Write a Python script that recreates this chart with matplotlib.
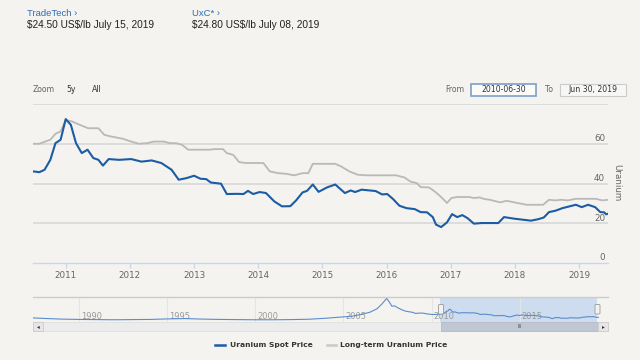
import matplotlib
matplotlib.use("Agg")
import matplotlib.pyplot as plt
from matplotlib.patches import Rectangle, FancyBboxPatch
import matplotlib.transforms as mtrans

# ---------------- data ----------------
spot_years = [2010.49, 2010.59, 2010.67, 2010.76, 2010.84, 2010.92, 2011.00, 2011.08, 2011.16, 2011.25,
              2011.34, 2011.43, 2011.51, 2011.58, 2011.67, 2011.83, 2012.02, 2012.18, 2012.34, 2012.49,
              2012.65, 2012.76, 2012.88, 2013.00, 2013.10, 2013.19, 2013.26, 2013.42, 2013.51, 2013.67,
              2013.77, 2013.84, 2013.92, 2014.02, 2014.12, 2014.25, 2014.37, 2014.50, 2014.59, 2014.69,
              2014.76, 2014.85, 2014.94, 2015.07, 2015.20, 2015.35, 2015.44, 2015.51, 2015.61, 2015.83,
              2015.93, 2016.01, 2016.10, 2016.20, 2016.31, 2016.44, 2016.53, 2016.63, 2016.72, 2016.77,
              2016.85, 2016.94, 2017.02, 2017.10, 2017.18, 2017.26, 2017.36, 2017.48, 2017.74, 2017.83,
              2017.99, 2018.25, 2018.37, 2018.45, 2018.53, 2018.63, 2018.74, 2018.85, 2018.95, 2019.04,
              2019.14, 2019.25, 2019.33, 2019.39, 2019.42, 2019.45]
spot_values = [46.1, 45.7, 46.9, 51.9, 60.3, 62.0, 72.4, 69.5, 60.3, 55.3,
               57.0, 52.8, 51.9, 49.0, 52.3, 51.9, 52.3, 51.0, 51.6, 50.3,
               46.9, 41.9, 42.7, 43.9, 42.4, 42.2, 40.5, 39.9, 34.7, 34.8,
               34.7, 36.3, 34.7, 35.7, 35.2, 31.0, 28.5, 28.6, 31.5, 35.5,
               36.3, 39.5, 35.8, 38.0, 39.5, 35.2, 36.5, 35.7, 36.9, 36.2,
               34.5, 34.7, 32.2, 28.8, 27.6, 27.1, 25.6, 25.5, 23.1, 19.3,
               18.1, 20.4, 24.6, 23.1, 24.1, 22.6, 19.8, 20.1, 20.1, 23.1,
               22.3, 21.3, 22.1, 22.9, 25.6, 26.3, 27.6, 28.5, 29.3, 28.1,
               29.3, 28.1, 25.6, 25.5, 24.5, 24.8]

lt_years = [2010.49, 2010.59, 2010.68, 2010.76, 2010.84, 2010.92, 2011.00, 2011.10, 2011.22, 2011.35,
            2011.51, 2011.60, 2011.70, 2011.89, 2012.02, 2012.14, 2012.27, 2012.37, 2012.53, 2012.62,
            2012.72, 2012.81, 2012.91, 2013.23, 2013.32, 2013.45, 2013.51, 2013.61, 2013.70, 2013.80,
            2014.08, 2014.18, 2014.31, 2014.43, 2014.56, 2014.69, 2014.78, 2014.85, 2015.20, 2015.29,
            2015.42, 2015.55, 2015.70, 2016.15, 2016.28, 2016.37, 2016.47, 2016.53, 2016.66, 2016.75,
            2016.85, 2016.94, 2017.01, 2017.10, 2017.29, 2017.36, 2017.45, 2017.52, 2017.61, 2017.77,
            2017.87, 2017.96, 2018.18, 2018.44, 2018.53, 2018.63, 2018.72, 2018.82, 2018.95, 2019.26,
            2019.36, 2019.45]
lt_values = [60.0, 60.0, 61.1, 62.0, 65.0, 66.2, 72.0, 71.2, 69.5, 67.8,
             67.8, 64.5, 63.7, 62.5, 61.1, 60.0, 60.3, 61.1, 61.1, 60.3,
             60.3, 59.5, 57.0, 57.0, 57.3, 57.3, 55.3, 54.4, 50.8, 50.3,
             50.3, 46.1, 45.2, 44.9, 44.1, 45.2, 45.2, 49.9, 49.9, 48.6,
             46.1, 44.4, 44.1, 44.1, 43.0, 41.0, 40.2, 38.2, 38.0, 36.0,
             33.2, 30.2, 32.7, 33.2, 33.2, 32.7, 33.0, 32.2, 31.8, 30.5,
             31.3, 30.7, 29.3, 29.3, 31.8, 31.5, 31.8, 31.5, 32.3, 32.3,
             31.5, 31.8]

# navigator history (spot price before the selected range)
hist_years = [1987.4, 1988.0, 1989.0, 1990.0, 1991.0, 1992.0, 1993.0, 1994.0, 1995.0, 1996.0,
              1997.0, 1998.0, 1999.0, 2000.0, 2001.0, 2002.0, 2003.0, 2004.0, 2005.0, 2005.5,
              2006.0, 2006.5, 2006.9, 2007.2, 2007.45, 2007.6, 2007.75, 2007.9, 2008.1, 2008.3,
              2008.5, 2008.7, 2008.9, 2009.1, 2009.3, 2009.5, 2009.7, 2010.0, 2010.3]
hist_values = [22, 19, 15, 13, 12, 11, 12, 13, 16, 18,
               15, 13, 12, 11, 11, 12, 14, 20, 28, 32,
               42, 55, 75, 105, 136, 115, 90, 92, 80, 70,
               62, 58, 55, 48, 50, 50, 46, 42, 42]

x_ticks = [2011, 2012, 2013, 2014, 2015, 2016, 2017, 2018, 2019]
y_ticks = [0, 20, 40, 60]
nav_ticks = [1990, 1995, 2000, 2005, 2010, 2015]
selection = (2010.5, 2019.38)

BG = "#f4f3ef"
BLUE = "#1c5ca4"
GRAY = "#b9b9b9"
TXT = "#666666"
FONT = "DejaVu Sans"

W, H = 640, 360
fig = plt.figure(figsize=(6.4, 3.6), dpi=100, facecolor=BG)


def rect(x0, y0, x1, y1):
    return [x0 / W, 1 - y1 / H, (x1 - x0) / W, (y1 - y0) / H]


# ---------------- main plot ----------------
ax = fig.add_axes(rect(33, 104, 608, 263))
ax.set_facecolor("none")
ax.set_xlim(2010.49, 2019.45)
ax.set_ylim(0, 80)
for v in [20, 40, 60, 80]:
    ax.axhline(v, color="#dcdcdc", lw=1.4, zorder=0)
ax.plot(lt_years, lt_values, color=GRAY, lw=1.3, zorder=2)
ax.plot(spot_years, spot_values, color=BLUE, lw=1.5, zorder=3)
for s in ["top", "left", "right"]:
    ax.spines[s].set_visible(False)
ax.spines["bottom"].set_color("#ccd6eb")
ax.spines["bottom"].set_linewidth(1.0)
ax.set_yticks([])
ax.set_xticks(x_ticks)
ax.set_xticklabels([str(t) for t in x_ticks], fontsize=6.3, color=TXT, family=FONT)
ax.tick_params(axis="x", length=3.5, color="#ccd6eb", width=1.0, pad=2.5)
trans = mtrans.blended_transform_factory(ax.transAxes, ax.transData)
for v in y_ticks:
    ax.text(0.995, v + 0.3, str(v), transform=trans, ha="right", va="bottom",
            fontsize=6.3, color=TXT, family=FONT)
fig.text(617 / W, 1 - 183 / H, "Uranium", rotation=270, ha="center", va="center",
         fontsize=6.3, color=TXT, family=FONT)

# ---------------- navigator ----------------
nav = fig.add_axes(rect(33, 297, 608, 322))
nav.set_facecolor("none")
nav.set_xlim(1987.4, 2020.0)
nav.set_ylim(-2, 144)
nav.axvspan(selection[0], selection[1], color="#cddcee", zorder=0, lw=0)
for t in nav_ticks:
    nav.axvline(t, color="#e4e4e4", lw=0.8, zorder=0.5)
ntrans = mtrans.blended_transform_factory(nav.transData, nav.transAxes)
for t in nav_ticks:
    nav.text(t + 0.1, 0.22, str(t), transform=ntrans, ha="left", va="center",
             fontsize=6, color="#9a9a9a", family=FONT, zorder=1)
nav.plot(hist_years + spot_years, hist_values + spot_values, color="#5b8ccc", lw=0.8, zorder=2)
for s in ["left", "right", "bottom"]:
    nav.spines[s].set_visible(False)
nav.spines["top"].set_color("#cccccc")
nav.spines["top"].set_linewidth(1.0)
nav.set_xticks([])
nav.set_yticks([])

# ---------------- overlay (UI chrome) ----------------
ov = fig.add_axes([0, 0, 1, 1])
ov.set_xlim(0, W)
ov.set_ylim(H, 0)
ov.axis("off")
ov.patch.set_alpha(0)

# header
HF = "Liberation Sans"
ov.text(27, 13.5, "TradeTech \u203a", fontsize=6.8, color="#2e6db4", family=HF, va="center")
ov.text(27, 24.5, "$24.50 US$/lb July 15, 2019", fontsize=7.3, color="#222222", family=HF,
        va="center", parse_math=False)
ov.text(191.5, 13.5, "UxC* \u203a", fontsize=6.8, color="#2e6db4", family=HF, va="center")
ov.text(191.5, 24.5, "$24.80 US$/lb July 08, 2019", fontsize=7.3, color="#222222", family=HF,
        va="center", parse_math=False)

# range selector row
ov.text(33, 89.5, "Zoom", fontsize=5.6, color=TXT, family=FONT, va="center")
ov.text(66, 89.5, "5y", fontsize=5.6, color="#333333", family=FONT, va="center")
ov.text(92, 89.5, "All", fontsize=5.6, color="#333333", family=FONT, va="center")
ov.text(445, 89.5, "From", fontsize=5.6, color=TXT, family=FONT, va="center")
ov.add_patch(Rectangle((471, 83.5), 64.5, 12, facecolor="#fbfbfa", edgecolor="#7d9fca", lw=1.2))
ov.text(503.25, 89.5, "2010-06-30", fontsize=5.6, color="#333333", family=FONT, ha="center", va="center")
ov.text(545, 89.5, "To", fontsize=5.6, color=TXT, family=FONT, va="center")
ov.add_patch(Rectangle((559.5, 83.5), 66, 12, facecolor="#f7f7f5", edgecolor="#cccccc", lw=0.8))
ov.text(592.5, 89.5, "Jun 30, 2019", fontsize=5.6, color="#333333", family=FONT, ha="center", va="center")

# scrollbar
ov.add_patch(Rectangle((33, 322), 575, 9, facecolor="#ececec", edgecolor="#e0e0e0", lw=0.6))
ov.add_patch(Rectangle((441, 322), 157, 9, facecolor="#bfc8d2", edgecolor="#b4bcc6", lw=0.6))
ov.text(519.5, 326.5, "III", fontsize=3.5, color="#555555", ha="center", va="center", family=FONT)
ov.add_patch(Rectangle((33, 322), 10, 9, facecolor="#e6e6e6", edgecolor="#cccccc", lw=0.6))
ov.add_patch(Rectangle((598, 322), 10, 9, facecolor="#e6e6e6", edgecolor="#cccccc", lw=0.6))
ov.text(38, 326.5, "\u25c2", fontsize=4, color="#333333", ha="center", va="center", family=FONT)
ov.text(603, 326.5, "\u25b8", fontsize=4, color="#333333", ha="center", va="center", family=FONT)
# navigator handles
for hx in (441, 597.5):
    ov.add_patch(FancyBboxPatch((hx - 2.5, 304.5), 5, 9.5, boxstyle="round,pad=0,rounding_size=1",
                                facecolor="#f2f2f2", edgecolor="#999999", lw=0.6))

# legend
ov.plot([215, 225], [345, 345], color=BLUE, lw=1.8)
ov.text(230, 345, "Uranium Spot Price", fontsize=5.4, fontweight="bold", color="#333333",
        family=FONT, va="center")
ov.plot([327, 336], [345, 345], color="#c8c8c8", lw=1.8)
ov.text(340, 345, "Long-term Uranium Price", fontsize=5.4, fontweight="bold", color="#333333",
        family=FONT, va="center")

fig.savefig("out.png", dpi=100, facecolor=BG)
